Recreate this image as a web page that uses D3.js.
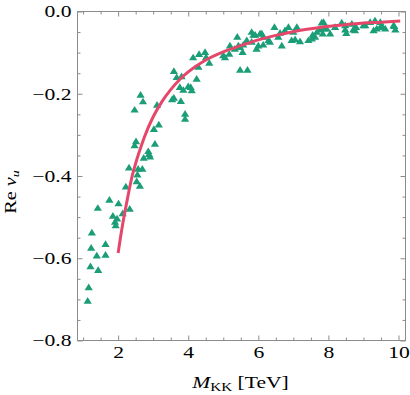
<!DOCTYPE html>
<html>
<head>
<meta charset="utf-8">
<script src="https://cdn.jsdelivr.net/npm/d3@7"></script>
<style>
  html, body { margin: 0; padding: 0; background: #fff; }
  svg { display: block; }
</style>
</head>
<body>
<div id="chart"></div>
<script>
// scatter: M_KK [TeV] vs Re nu_u
var mkk = [1.13, 1.16, 1.21, 1.43, 1.39, 1.64, 1.23, 1.64, 1.25, 1.42, 1.75, 2.01, 1.85, 1.97, 1.91, 1.93,
  2.13, 2.33, 2.22, 2.31, 2.53, 2.62, 2.55, 2.57, 2.69, 2.73, 2.86, 2.91, 2.88, 2.47, 2.51, 3.05, 3.02,
  3.16, 3.11, 2.47, 2.64, 2.71, 3.59, 3.67, 3.81, 3.59, 3.54, 3.79, 3.91, 3.91, 3.76, 3.86, 4.00, 4.07,
  4.10, 4.24, 4.29, 4.14, 4.31, 4.48, 4.51, 4.60, 5.00, 5.05, 5.17, 5.19, 5.33, 5.40, 5.43, 5.48, 5.55,
  5.57, 5.48, 5.69, 5.67, 5.81, 5.81, 5.91, 5.86, 5.95, 6.00, 6.05, 6.10, 6.14, 6.14, 6.29, 6.33, 6.46,
  6.57, 6.62, 6.67, 6.76, 6.86, 6.95, 7.05, 7.00, 7.10, 7.19, 7.43, 7.53, 7.55, 7.62, 7.67, 7.76, 7.81,
  7.86, 7.89, 7.95, 8.05, 7.84, 8.19, 8.38, 8.48, 8.51, 8.48, 8.67, 8.71, 8.76, 8.79, 9.00, 9.05, 9.19,
  9.29, 9.33, 9.38, 9.48, 9.48, 9.53, 9.62, 9.86, 9.88, 9.91];
var reNu = [-0.703, -0.670, -0.619, -0.628, -0.593, -0.591, -0.574, -0.565, -0.537, -0.477, -0.457, -0.466,
  -0.496, -0.503, -0.511, -0.519, -0.490, -0.479, -0.425, -0.379, -0.412, -0.423, -0.396, -0.382, -0.382,
  -0.355, -0.339, -0.352, -0.346, -0.325, -0.315, -0.321, -0.285, -0.274, -0.226, -0.238, -0.202, -0.218,
  -0.144, -0.159, -0.157, -0.209, -0.213, -0.217, -0.248, -0.260, -0.183, -0.190, -0.181, -0.183, -0.191,
  -0.163, -0.134, -0.111, -0.103, -0.098, -0.110, -0.124, -0.106, -0.111, -0.102, -0.082, -0.090, -0.061,
  -0.082, -0.086, -0.098, -0.080, -0.141, -0.141, -0.069, -0.073, -0.049, -0.056, -0.056, -0.090, -0.082,
  -0.053, -0.053, -0.061, -0.080, -0.069, -0.073, -0.037, -0.061, -0.051, -0.082, -0.045, -0.037, -0.069,
  -0.067, -0.049, -0.037, -0.072, -0.069, -0.065, -0.056, -0.061, -0.049, -0.043, -0.026, -0.025, -0.041,
  -0.041, -0.053, -0.053, -0.037, -0.026, -0.033, -0.052, -0.043, -0.029, -0.043, -0.045, -0.037, -0.033,
  -0.033, -0.025, -0.045, -0.021, -0.041, -0.037, -0.025, -0.035, -0.041, -0.033, -0.035, -0.043];

// fit curve
var fitMkk = [2.0, 2.1, 2.2, 2.3, 2.4, 2.5, 2.6, 2.75, 3.0, 3.25, 3.5, 3.75, 4.0, 4.5, 5.0, 5.5, 6.0,
  6.5, 7.0, 7.5, 8.0, 8.5, 9.0, 9.5, 10.05];
var fitReNu = [-0.587, -0.532, -0.484, -0.440, -0.400, -0.369, -0.342, -0.305, -0.256, -0.219, -0.190,
  -0.166, -0.147, -0.118, -0.098, -0.083, -0.069, -0.058, -0.049, -0.042, -0.036, -0.032, -0.028, -0.026, -0.023];

var xTicks = [2, 4, 6, 8, 10];
var yTicks = [-0.8, -0.6, -0.4, -0.2, 0];
var xMinor = d3.range(1, 10.01, 0.5).filter(function (v) { return v % 2 !== 0; });
var yMinor = d3.range(-0.8, 0.001, 0.05).filter(function (v) { return Math.abs(v * 5 - Math.round(v * 5)) > 1e-6; });

var width = 410, height = 395;
var margin = { top: 11.5, right: 4.5, bottom: 54.5, left: 77.5 };
var innerW = width - margin.left - margin.right;
var innerH = height - margin.top - margin.bottom;
var stretch = 1.27;           // reference glyphs are wider than Times
var fs = 17;
var font = "'Liberation Serif', 'Times New Roman', serif";
var frameCol = "#8c8c8c";

var svg = d3.select("#chart").append("svg")
  .attr("width", width).attr("height", height);

var g = svg.append("g")
  .attr("transform", "translate(" + margin.left + "," + margin.top + ")");

var x = d3.scaleLinear().domain([0.84, 10.2]).range([0, innerW]);
var y = d3.scaleLinear().domain([-0.8, 0]).range([innerH, 0]);

function yFmt(d) { return d === 0 ? "0.0" : "\u2212" + Math.abs(d).toFixed(1); }

function styleAxis(sel) {
  sel.select(".domain").remove();
  sel.selectAll(".tick line").attr("stroke", frameCol).attr("stroke-width", 1);
  sel.selectAll(".tick text")
    .attr("font-family", font).attr("font-size", fs).attr("fill", "#000");
}

// major + minor ticks on all four sides (inward)
[["b", xTicks, 5, true], ["b", xMinor, 3, false], ["t", xTicks, 5, false], ["t", xMinor, 3, false]].forEach(function (a) {
  var ax = (a[0] === "b" ? d3.axisBottom(x) : d3.axisTop(x))
    .tickValues(a[1]).tickSize(-a[2]).tickPadding(5)
    .tickFormat(a[3] ? function (d) { return d; } : "");
  var gg = g.append("g")
    .attr("transform", a[0] === "b" ? "translate(0," + innerH + ")" : null)
    .call(ax).call(styleAxis);
  gg.selectAll(".tick text").attr("transform", "scale(" + stretch + ",1)");
});
[["l", yTicks, 5, true], ["l", yMinor, 3, false], ["r", yTicks, 5, false], ["r", yMinor, 3, false]].forEach(function (a) {
  var ax = (a[0] === "l" ? d3.axisLeft(y) : d3.axisRight(y))
    .tickValues(a[1]).tickSize(-a[2]).tickPadding(6)
    .tickFormat(a[3] ? yFmt : "");
  var gg = g.append("g")
    .attr("transform", a[0] === "r" ? "translate(" + innerW + ",0)" : null)
    .call(ax).call(styleAxis);
  gg.selectAll(".tick text")
    .attr("x", -6 / stretch)
    .attr("transform", "scale(" + stretch + ",1)");
});

// frame
g.append("rect")
  .attr("x", 0).attr("y", 0).attr("width", innerW).attr("height", innerH)
  .attr("fill", "none").attr("stroke", frameCol).attr("stroke-width", 1);

// points (triangles)
var pts = mkk.map(function (m, i) { return { m: m, v: reNu[i] }; });
g.selectAll(".pt")
  .data(pts).join("path")
    .attr("class", "pt")
    .attr("d", "M0,-3.5L4.1,3.2L-4.1,3.2Z")
    .attr("transform", function (d) { return "translate(" + x(d.m) + "," + y(d.v) + ")"; })
    .attr("fill", "#1b9e77");

// fit line
var fit = fitMkk.map(function (m, i) { return { m: m, v: fitReNu[i] }; });
g.append("path")
  .datum(fit)
  .attr("d", d3.line()
    .x(function (d) { return x(d.m); })
    .y(function (d) { return y(d.v); })
    .curve(d3.curveMonotoneX))
  .attr("fill", "none")
  .attr("stroke", "#e5476a")
  .attr("stroke-width", 3)
  .attr("stroke-linecap", "butt");

// x title: M_KK [TeV]
var xt = svg.append("g")
  .attr("transform", "translate(" + (margin.left + 163) + ",388) scale(" + stretch + ",1)")
  .append("text")
    .attr("text-anchor", "middle")
    .attr("font-family", font).attr("font-size", fs).attr("fill", "#000");
xt.append("tspan").attr("font-style", "italic").text("M");
xt.append("tspan").attr("font-size", 12).attr("dy", 3).text("KK");
xt.append("tspan").attr("dy", -3).text(" [TeV]");

// y title: Re nu_u
var yt = svg.append("g")
  .attr("transform", "translate(16,192) rotate(-90) scale(" + stretch + ",1)")
  .append("text")
    .attr("text-anchor", "middle")
    .attr("font-family", font).attr("font-size", 16).attr("fill", "#000");
yt.append("tspan").text("Re ");
yt.append("tspan").attr("font-style", "italic").text("\u03bd");
yt.append("tspan").attr("font-style", "italic").attr("font-size", 11).attr("dy", 3).text("u");
</script>
</body>
</html>
